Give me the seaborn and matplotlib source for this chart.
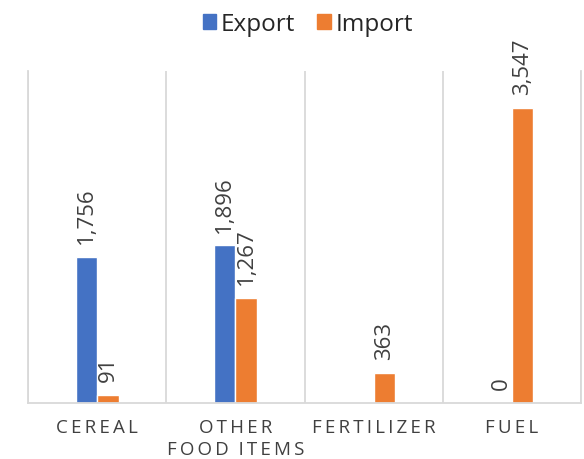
import seaborn as sns
import matplotlib.pyplot as plt
import pandas as pd
import numpy as np

sns.set_style("white")
plt.rcParams['font.family'] = ['Open Sans', 'DejaVu Sans']

categories = ['CEREAL', 'OTHER FOOD ITEMS', 'FERTILIZER', 'FUEL']
tick_labels = ['CEREAL', 'OTHER\nFOOD ITEMS', 'FERTILIZER', 'FUEL']
export_vals = [1756, 1896, np.nan, 0]
import_vals = [91, 1267, 363, 3547]
series = ['Export', 'Import']
colors = ['#4472C4', '#ED7D31']


def spaced(text):
    # imitate Excel letter spacing
    sp = '\u2009'
    lines = []
    for line in text.split('\n'):
        lines.append('  '.join(sp.join(w) for w in line.split(' ')))
    return '\n'.join(lines)


df = pd.DataFrame({
    'category': categories * 2,
    'series': ['Export'] * 4 + ['Import'] * 4,
    'value': export_vals + import_vals,
})

fig = plt.figure(figsize=(5.84, 4.6), dpi=100)
ax = fig.add_axes([0.048, 0.122, 0.947, 0.722])

sns.barplot(data=df, x='category', y='value', hue='series',
            palette=colors, width=0.31, ax=ax, legend=False,
            saturation=1)

# value labels
for container in ax.containers:
    for bar in container:
        h = bar.get_height()
        if np.isnan(h):
            continue
        ax.annotate(f'{int(h):,}', (bar.get_x() + bar.get_width() / 2, h),
                    xytext=(0, 10), textcoords='offset points',
                    rotation=90, ha='center', va='bottom',
                    fontsize=16, color='#404040')

ax.set_ylim(0, 4000)
ax.set_xlim(-0.5, 3.5)
ax.set_yticks([])
ax.set_xticks(range(4))
ax.set_xticklabels([spaced(t) for t in tick_labels], fontsize=13.5,
                   color='#404040', linespacing=1.3)
ax.tick_params(axis='x', length=0, pad=11)
ax.set_xticks([-0.5, 0.5, 1.5, 2.5, 3.5], minor=True)
ax.grid(axis='x', which='minor', color='#D9D9D9', linewidth=1.3)
ax.set_xlabel('')
ax.set_ylabel('')
for s in ['left', 'right', 'bottom']:
    ax.spines[s].set_color('#D9D9D9')
    ax.spines[s].set_linewidth(1.3)
ax.spines['top'].set_visible(False)

handles = [plt.Rectangle((0, 0), 1, 1, color=c) for c in colors]
fig.legend(handles, series, loc='center', bbox_to_anchor=(0.527, 0.945),
           ncol=2, frameon=False, fontsize=17.5, handlelength=0.55,
           handleheight=0.55, handletextpad=0.2, columnspacing=0.9,
           labelcolor='#262626')

fig.savefig('out.png', dpi=100)
